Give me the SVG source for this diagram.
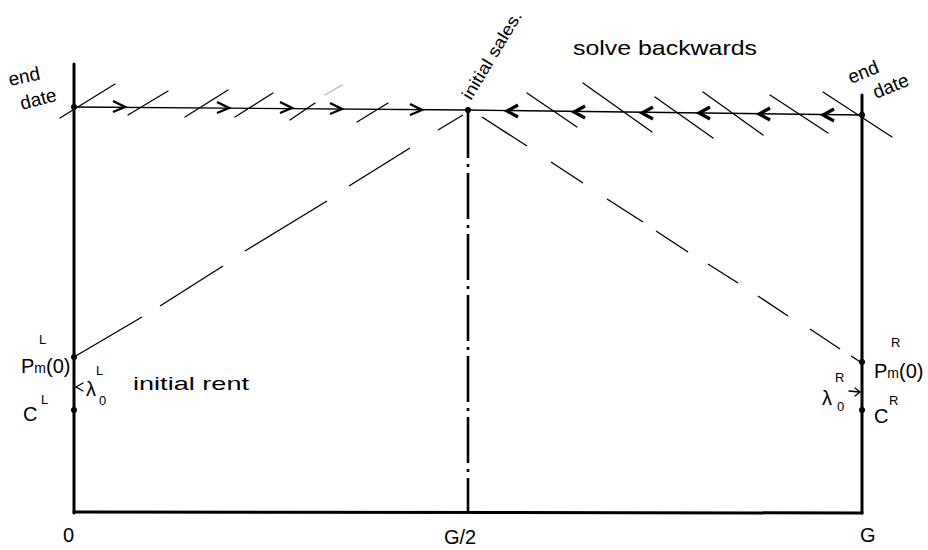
<svg xmlns="http://www.w3.org/2000/svg" width="928" height="550" viewBox="0 0 928 550">
<style>
.ax{stroke:#000;stroke-width:3;fill:none;stroke-linecap:round}
.thin{stroke:#000;stroke-width:1.3;fill:none;stroke-linecap:round}
.dash{stroke:#000;stroke-width:1.4;fill:none}
.cen{stroke:#000;stroke-width:2.6;fill:none;stroke-dasharray:46 6 3 6}
.arR{stroke:#000;stroke-width:2.4;fill:none;stroke-linejoin:miter}
.arL{stroke:#000;stroke-width:3.2;fill:none;stroke-linejoin:miter}
.dot{fill:#000}
text{font-family:"Liberation Sans","DejaVu Sans",sans-serif;fill:#000}
.lab{font-size:20px}
.sm{font-size:13px}
</style>
<defs>
<path id="ar" class="arR" d="M-12,-6 L0,0 L-12,5"/>
<path id="al" class="arL" d="M11,-6 L0,0 L11,6"/>
</defs>

<g id="frame">
<line class="ax" x1="74" y1="64" x2="74" y2="513"/>
<line class="ax" x1="862" y1="95" x2="862" y2="513"/>
<line class="ax" x1="74" y1="512" x2="862" y2="513"/>
<line class="cen" x1="468" y1="112" x2="468" y2="512"/>
</g>

<g id="connectors">
<polyline class="thin" points="74,107 468,110 862,115"/>
<line class="thin" x1="60" y1="118" x2="115" y2="84"/>
<line class="thin" x1="128" y1="115" x2="168" y2="91"/>
<line class="thin" x1="185" y1="117" x2="228" y2="90"/>
<line class="thin" x1="235" y1="117" x2="273" y2="93"/>
<line class="thin" x1="290" y1="120" x2="315" y2="103"/>
<line class="thin" x1="325" y1="95" x2="342" y2="85" stroke-opacity="0.3"/>
<line class="thin" x1="357" y1="122" x2="388" y2="103"/>
<line class="thin" x1="527" y1="93" x2="577" y2="127"/>
<line class="thin" x1="583" y1="83" x2="652" y2="132"/>
<line class="thin" x1="655" y1="97" x2="713" y2="138"/>
<line class="thin" x1="703" y1="92" x2="763" y2="135"/>
<line class="thin" x1="770" y1="95" x2="828" y2="133"/>
<line class="thin" x1="823" y1="92" x2="892" y2="137"/>
<use href="#ar" x="125" y="107"/>
<use href="#ar" x="229" y="108"/>
<use href="#ar" x="292" y="108"/>
<use href="#ar" x="342" y="109"/>
<use href="#ar" x="422" y="110"/>
<use href="#al" x="507" y="111"/>
<use href="#al" x="574" y="112"/>
<use href="#al" x="642" y="113"/>
<use href="#al" x="699" y="113"/>
<use href="#al" x="759" y="114"/>
<use href="#al" x="823" y="115"/>
<g class="dash">
<line x1="74" y1="357" x2="142" y2="317"/>
<line x1="160" y1="306" x2="223" y2="266"/>
<line x1="245" y1="251" x2="327" y2="201"/>
<line x1="349" y1="186" x2="410" y2="148"/>
<line x1="438" y1="130" x2="463" y2="115"/>
</g>
<g class="dash">
<line x1="482" y1="117" x2="527" y2="146"/>
<line x1="551" y1="162" x2="583" y2="183"/>
<line x1="607" y1="199" x2="643" y2="222"/>
<line x1="656" y1="231" x2="688" y2="252"/>
<line x1="708" y1="264" x2="738" y2="283"/>
<line x1="758" y1="296" x2="788" y2="316"/>
<line x1="810" y1="329" x2="840" y2="349"/>
<line x1="851" y1="356" x2="862" y2="363"/>
</g>
<path class="thin" d="M83,383 L76,387 L83,391"/>
<path class="thin" d="M849,391 L859,392 M855,388 L860,392 L855,396"/>
</g>

<g id="dots">
<circle class="dot" cx="74" cy="107" r="3"/>
<circle class="dot" cx="74" cy="357" r="3"/>
<circle class="dot" cx="74" cy="410" r="3"/>
<circle class="dot" cx="468" cy="110" r="3"/>
<circle class="dot" cx="862" cy="115" r="3"/>
<circle class="dot" cx="862" cy="362" r="3"/>
<circle class="dot" cx="862" cy="410" r="3"/>
</g>

<g id="labels">
<text x="10" y="86" font-size="19" transform="rotate(-12 10 86)">end</text>
<text x="22" y="110" font-size="19" transform="rotate(-15 22 110)">date</text>
<text x="851" y="84" font-size="19" transform="rotate(-22 851 84)">end</text>
<text x="876" y="99" font-size="19" transform="rotate(-22 876 99)">date</text>
<text x="471" y="101" font-size="17" textLength="100" lengthAdjust="spacingAndGlyphs" transform="rotate(-59 471 101)">initial sales.</text>
<text x="573" y="55" font-size="21" textLength="184" lengthAdjust="spacingAndGlyphs">solve backwards</text>

<text class="lab" x="21" y="373">P<tspan font-size="14">m</tspan>(0)</text>
<text class="sm" x="39" y="344">L</text>
<text class="lab" x="86" y="396">λ</text>
<text class="sm" x="99" y="405">0</text>
<text class="sm" x="96" y="375">L</text>
<text x="133" y="390" font-size="19" textLength="116" lengthAdjust="spacingAndGlyphs">initial rent</text>
<text class="lab" x="23" y="421">C</text>
<text class="sm" x="41" y="404">L</text>

<text class="lab" x="874" y="378">P<tspan font-size="14">m</tspan>(0)</text>
<text class="sm" x="891" y="347">R</text>
<text class="lab" x="822" y="405">λ</text>
<text class="sm" x="837" y="411">0</text>
<text class="sm" x="835" y="382">R</text>
<text class="lab" x="874" y="423">C</text>
<text class="sm" x="889" y="405">R</text>

<text class="lab" x="63" y="542">0</text>
<text class="lab" x="444" y="544">G/2</text>
<text class="lab" x="860" y="542">G</text>
</g>
</svg>
